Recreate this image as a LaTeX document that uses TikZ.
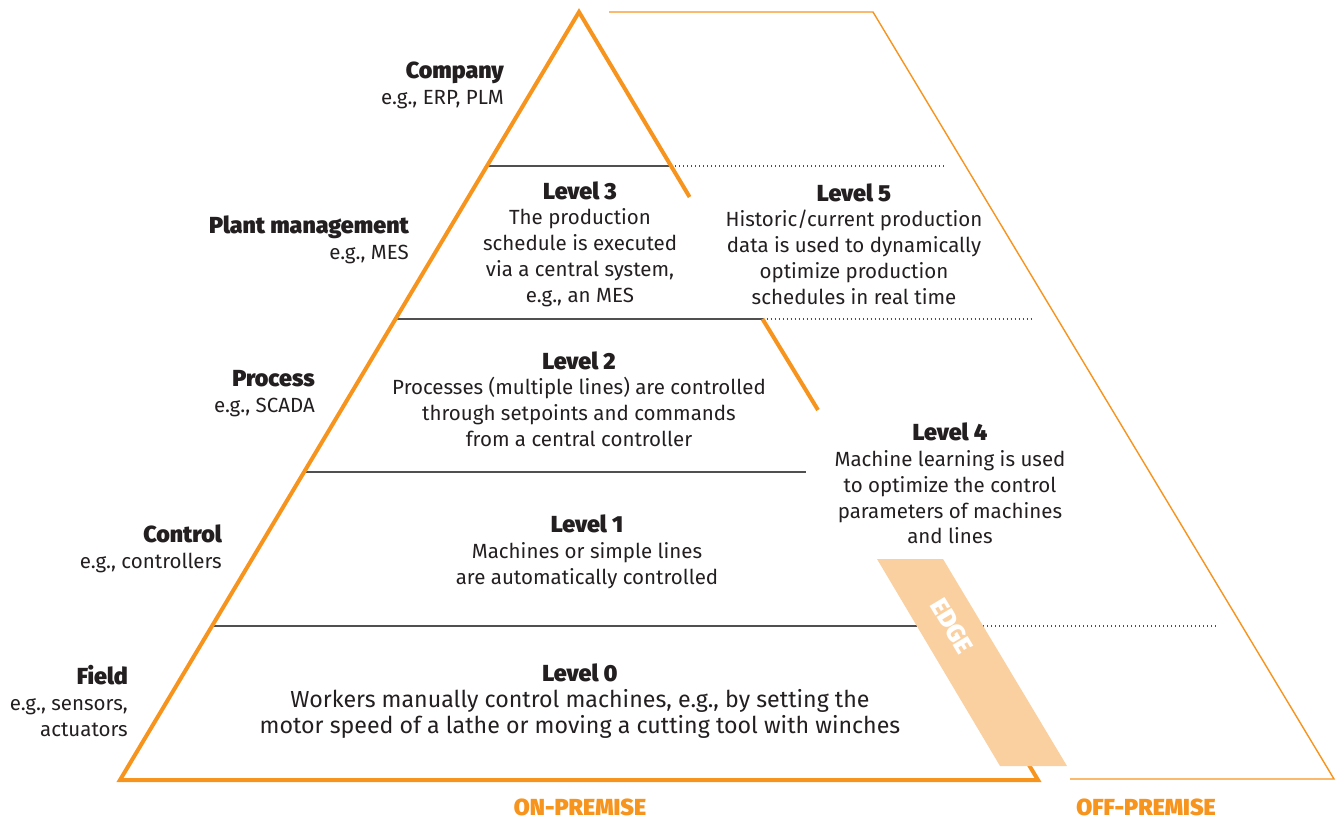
\documentclass[tikz,border=0pt]{standalone}
\usepackage{fontspec}
\setmainfont{Fira Sans}[BoldFont={Fira Sans Black}]
\definecolor{orng}{RGB}{247,148,30}
\definecolor{edgefill}{RGB}{251,208,160}
\definecolor{txt}{RGB}{35,31,32}
\definecolor{rule}{RGB}{80,80,80}
\newcommand{\hd}[1]{{\bfseries\fontsize{23.2}{25.8}\selectfont #1}}
\begin{document}
\begin{tikzpicture}[x=1pt,y=-1pt,
  body/.style={inner sep=0pt,align=center,text=txt,font=\fontsize{20.5}{25.8}\selectfont},
  side/.style={inner sep=0pt,align=right,text=txt,anchor=east,font=\fontsize{20.5}{25.8}\selectfont},
  prem/.style={inner sep=0pt,text=orng,font=\bfseries\fontsize{23.2}{24}\selectfont},
  thickline/.style={draw=orng,line width=4pt,line join=miter},
  thinline/.style={draw=orng,line width=1.4pt,line join=miter},
  level/.style={draw=rule,line width=1.4pt},
  dotline/.style={draw=rule,line width=1.1pt,dash pattern=on 1.1pt off 2.9pt}]
\useasboundingbox (0,0) rectangle (1341,819);
% coordinates
\coordinate (apex) at (579,12);
\coordinate (bl) at (120,780);
\coordinate (br) at (1038,780);
\coordinate (r1a) at (689.6,197);
\coordinate (r2a) at (762.5,319);
\coordinate (r2b) at (818,410);
\coordinate (r3a) at (990,700);
\coordinate (o1) at (609,12);
\coordinate (o2) at (873,12);
\coordinate (o3) at (1334,779);
\coordinate (o4) at (1070,779);
% level lines
\coordinate (l3a) at (487,166);   \coordinate (l3b) at (671,166);  \coordinate (l3c) at (946,166);
\coordinate (l2a) at (395.5,319); \coordinate (l2b) at (762.5,319);\coordinate (l2c) at (1033,319);
\coordinate (l1a) at (304,472);   \coordinate (l1b) at (806,472);
\coordinate (l0a) at (212,626);   \coordinate (l0b) at (917,626);  \coordinate (l0d) at (983,626); \coordinate (l0c) at (1217,626);
\draw[level] (l3a) -- (l3b);
\draw[dotline] (l3b) -- (l3c);
\draw[level] (l2a) -- (l2b);
\draw[dotline] (l2b) -- (l2c);
\draw[level] (l1a) -- (l1b);
\draw[level] (l0a) -- (l0b);
\draw[dotline] (l0d) -- (l0c);
% outlines
\draw[thickline] (r1a) -- (apex) -- (bl) -- (br) -- (r3a);
\draw[thickline] (r2a) -- (r2b);
\draw[thinline] (o1) -- (o2) -- (o3) -- (o4);
% edge band
\coordinate (e1) at (877,559); \coordinate (e2) at (943,559);
\coordinate (e3) at (1067,766); \coordinate (e4) at (1000,766);
\fill[edgefill] (e1) -- (e2) -- (e3) -- (e4) -- cycle;
\node[inner sep=0pt,text=white,font=\bfseries\fontsize{25}{25}\selectfont,rotate=-59] (edge) at (952,626) {EDGE};
% side labels
\node[side] (company) at (504,85.5) {\hd{Company}\\e.g., ERP, PLM};
\node[side] (plant) at (409,239.5) {\hd{Plant management}\\e.g., MES};
\node[side] (process) at (315,393.5) {\hd{Process}\\e.g., SCADA};
\node[side] (control) at (222,548.5) {\hd{Control}\\e.g., controllers};
\node[side] (field) at (128,701) {\hd{Field}\\e.g., sensors,\\actuators};
% level texts
\node[body] (lev3) at (580,244) {\hd{Level 3}\\The production\\schedule is executed\\via a central system,\\e.g., an MES};
\node[body] (lev5) at (854,244) {\hd{Level 5}\\Historic/current production\\data is used to dynamically\\optimize production\\schedules in real time};
\node[body] (lev2) at (579,399) {\hd{Level 2}\\Processes (multiple lines) are controlled\\through setpoints and commands\\from a central controller};
\node[body] (lev4) at (950,483.5) {\hd{Level 4}\\Machine learning is used\\to optimize the control\\parameters of machines\\and lines};
\node[body] (lev1) at (587,552) {\hd{Level 1}\\Machines or simple lines\\are automatically controlled};
\node[body,font=\fontsize{23.2}{26.2}\selectfont] (lev0) at (580,701) {\hd{Level 0}\\Workers manually control machines, e.g., by setting the\\motor speed of a lathe or moving a cutting tool with winches};
% premise labels
\node[prem] (onp) at (580,807) {ON-PREMISE};
\node[prem] (offp) at (1146,807) {OFF-PREMISE};
\end{tikzpicture}
\end{document}
